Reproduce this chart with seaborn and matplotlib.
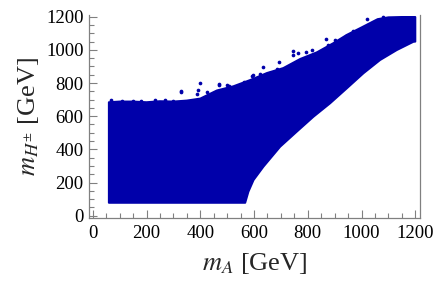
import pandas as pd
import seaborn as sns
import matplotlib
matplotlib.use("Agg")
import matplotlib.pyplot as plt
from matplotlib.ticker import MultipleLocator

# upper edge of the dense scan region (GeV)
upper_mA = [60, 100, 150, 200, 250, 300, 350, 400, 462, 523, 586, 648, 709,
            772, 834, 895, 945, 1000, 1060, 1100, 1150, 1200]
upper_mH = [684, 688, 688, 684, 690, 688, 694, 706, 755, 780, 818, 860, 890,
            945, 985, 1040, 1090, 1135, 1185, 1196, 1198, 1198]

# lower edge, from the right back to the left
lower_mA = [1200, 1193, 1131, 1069, 1007, 945, 883, 821, 759, 697, 635, 598, 579, 567, 60]
lower_mH = [1050, 1049, 999, 939, 859, 768, 678, 597, 507, 416, 296, 215, 145, 78, 78]

# loose points scattered around the top of the band
stray_mA = [66, 110, 150, 180, 232, 270, 300, 329, 329, 387, 392, 400, 425, 468,
            471, 499, 505, 530, 561, 567, 592, 598, 623, 635, 660, 685, 693, 707,
            728, 744, 746, 765, 794, 815, 868, 877, 902, 941, 970, 1020, 1081]
stray_mH = [696, 694, 693, 692, 700, 695, 694, 744, 754, 732, 758, 798, 748, 794,
            788, 788, 782, 778, 808, 788, 843, 849, 855, 895, 859, 883, 929, 879,
            895, 993, 969, 983, 989, 999, 1064, 1030, 1060, 1084, 1116, 1185, 1200]

blue = "#0000AA"
frame = "#808080"

sns.set_theme(style="ticks")
plt.rcParams["font.family"] = ["Liberation Serif", "DejaVu Serif"]
plt.rcParams["mathtext.fontset"] = "stix"

fig = plt.figure(figsize=(4.41, 2.90), dpi=100)
ax = fig.add_axes([0.2025, 0.2466, 0.7495, 0.7015])

region = pd.DataFrame({"mA": upper_mA + lower_mA, "mH": upper_mH + lower_mH})
ax.fill(region["mA"], region["mH"], color=blue, lw=1.5, joinstyle="round")

stray = pd.DataFrame({"mA": stray_mA, "mH": stray_mH})
sns.scatterplot(data=stray, x="mA", y="mH", ax=ax, color=blue, s=7,
                linewidth=0, legend=False)

ax.set_xlim(-13, 1217)
ax.set_ylim(-17, 1210)
ax.xaxis.set_major_locator(MultipleLocator(200))
ax.xaxis.set_minor_locator(MultipleLocator(50))
ax.yaxis.set_major_locator(MultipleLocator(200))
ax.yaxis.set_minor_locator(MultipleLocator(50))

sns.despine(ax=ax, top=True, right=False)
for side in ["left", "bottom", "right"]:
    ax.spines[side].set_color(frame)
    ax.spines[side].set_linewidth(0.9)

ax.tick_params(which="both", direction="in", color=frame, width=0.8,
               labelsize=13.5, labelcolor="black", top=False, right=False)
ax.tick_params(which="major", length=6)
ax.tick_params(which="minor", length=3.5)
ax.tick_params(axis="x", pad=5)
ax.tick_params(axis="y", pad=4)

ax.set_xlabel(r"$m_A$ [GeV]", fontsize=19, labelpad=6)
ax.set_ylabel(r"$m_{H^{\pm}}$ [GeV]", fontsize=19, labelpad=4)

fig.savefig("out.png", dpi=100)
